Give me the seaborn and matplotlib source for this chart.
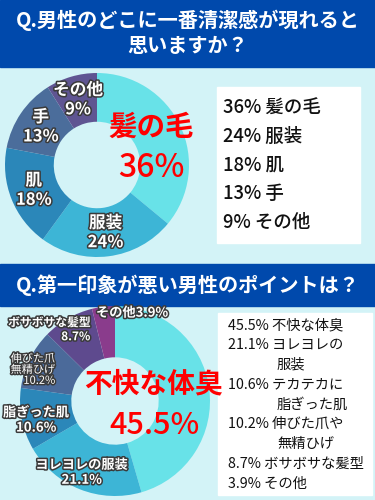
"""清潔感アンケート — ドーナツチャート2枚."""

import matplotlib

matplotlib.use("Agg")

import matplotlib.patheffects as pe
import matplotlib.pyplot as plt
import numpy as np
import seaborn as sns
from matplotlib.patches import Rectangle

# --- データ -------------------------------------------------------------
title1 = "Q.男性のどこに一番清潔感が現れると\n思いますか？"
labels1 = ["髪の毛", "服装", "肌", "手", "その他"]
values1 = [36, 24, 18, 13, 9]

title2 = "Q.第一印象が悪い男性のポイントは？"
labels2 = ["不快な体臭", "ヨレヨレの服装", "脂ぎった肌", "伸びた爪\n無精ひげ", "ボサボサな髪型", "その他"]
legend2 = ["不快な体臭", "ヨレヨレの\n服装", "テカテカに\n脂ぎった肌", "伸びた爪や\n無精ひげ", "ボサボサな髪型", "その他"]
values2 = [45.5, 21.1, 10.6, 10.2, 8.7, 3.9]

colors1 = ["#68e2e8", "#3db5d6", "#2b87b9", "#4b6d9b", "#5f5592"]
colors2 = ["#68e2e8", "#3db5d6", "#2b87b9", "#4b6a9a", "#5e4a8e", "#8a3c8c"]

# --- スタイル -----------------------------------------------------------
sns.set_theme(style="white")
plt.rcParams["font.family"] = ["Noto Sans CJK JP", "DejaVu Sans"]

W, H = 375, 500
BG = "#d3f3f7"
HEAD = "#0049ac"
outline = [pe.withStroke(linewidth=2.2, foreground="#3a3a3a")]

fig = plt.figure(figsize=(W / 100, H / 100), dpi=100, facecolor=BG)

bg = fig.add_axes([0, 0, 1, 1])
bg.set_xlim(0, W)
bg.set_ylim(H, 0)
bg.axis("off")
bg.set_facecolor(BG)

# ヘッダーと凡例ボックス
bg.add_patch(Rectangle((0, 0), W, 67, color=HEAD))
bg.add_patch(Rectangle((0, 264), W, 42, color=HEAD))
bg.add_patch(Rectangle((217, 87), 143, 156, color="white"))
bg.add_patch(Rectangle((218, 313), 154, 182, color="white"))

bg.text(W / 2, 33, title1, ha="center", va="center", color="white",
        fontsize=14.5, fontweight="bold", linespacing=1.25)
bg.text(W / 2, 285, title2, ha="center", va="center", color="white",
        fontsize=14.5, fontweight="bold")


def donut_axes(cx, cy, r):
    ax = fig.add_axes([(cx - r) / W, 1 - (cy + r) / H, 2 * r / W, 2 * r / H])
    ax.set_facecolor("none")
    return ax


# --- 1枚目 --------------------------------------------------------------
ax1 = donut_axes(97, 165, 92)
wedges1, _ = ax1.pie(values1, colors=sns.color_palette(colors1), startangle=90,
                     counterclock=False, wedgeprops=dict(width=0.53, linewidth=0))
ax1.set_xlim(-1, 1)
ax1.set_ylim(-1, 1)
ax1.set_aspect("equal")
for w, lab, v in zip(wedges1[1:], labels1[1:], values1[1:]):
    ang = np.deg2rad((w.theta1 + w.theta2) / 2)
    ax1.text(0.74 * np.cos(ang), 0.74 * np.sin(ang), f"{lab}\n{v}%",
             ha="center", va="center", color="white", fontsize=12,
             fontweight="bold", linespacing=1.1, path_effects=outline)

# --- 2枚目 --------------------------------------------------------------
ax2 = donut_axes(115, 401, 95)
wedges2, _ = ax2.pie(values2, colors=sns.color_palette(colors2), startangle=90,
                     counterclock=False, wedgeprops=dict(width=0.54, linewidth=0))
ax2.set_xlim(-1, 1)
ax2.set_ylim(-1, 1)
ax2.set_aspect("equal")

# ラベル位置 (半径単位), 揃え, サイズ
label_pos2 = [None, (-0.35, -0.75, "center", 9.5), (-0.83, -0.2, "center", 9.5),
              (-0.63, 0.33, "right", 8), (-0.26, 0.75, "right", 8.5),
              (0.18, 0.93, "center", 9.5)]
for lab, v, pos in zip(labels2, values2, label_pos2):
    if pos is None:
        continue
    x, y, ha, fs = pos
    txt = f"{lab}{v}%" if lab == "その他" else f"{lab}\n{v}%"
    ax2.text(x, y, txt, ha=ha, va="center", multialignment=ha, color="white",
             fontsize=fs, fontweight="bold" if fs > 8 else "normal",
             linespacing=1.1, path_effects=outline, clip_on=False)

# --- 中央テキスト (最上層) ----------------------------------------------
top = fig.add_axes([0, 0, 1, 1])
top.set_xlim(0, W)
top.set_ylim(H, 0)
top.axis("off")
top.text(151, 128, labels1[0], ha="center", va="center", color="#ff0000",
         fontsize=20.5, fontweight="bold")
top.text(151, 168, f"{values1[0]}%", ha="center", va="center", color="#ff0000",
         fontsize=23, fontweight="medium")
top.text(153, 384, labels2[0], ha="center", va="center", color="#ff0000",
         fontsize=20, fontweight="bold")
top.text(154, 426, f"{values2[0]}%", ha="center", va="center", color="#ff0000",
         fontsize=22, fontweight="medium")

# 凡例テキスト
for i, (lab, v) in enumerate(zip(labels1, values1)):
    top.text(223, 108 + i * 28.5, f"{v}% {lab}", ha="left", va="center",
             color="#111111", fontsize=13.3, fontweight="medium")

y = 325
for lab, v in zip(legend2, values2):
    lines = lab.split("\n")
    top.text(228, y, f"{v}% {lines[0]}", ha="left", va="center",
             color="#111111", fontsize=10.3)
    y += 19.8
    for extra in lines[1:]:
        top.text(277, y, extra, ha="left", va="center", color="#111111",
                 fontsize=10.3)
        y += 19.8

fig.savefig("out.png", dpi=100, facecolor=BG)
